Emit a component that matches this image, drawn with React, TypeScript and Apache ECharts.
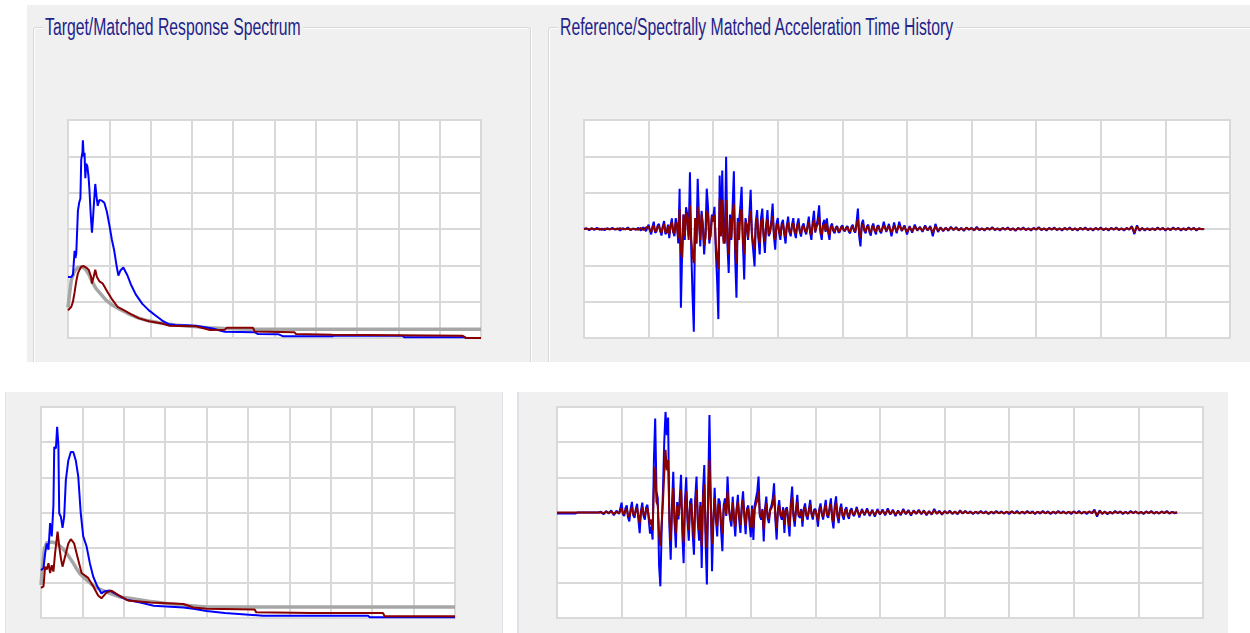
import React, { useEffect, useRef } from "react";
import * as echarts from "echarts";

// ---------- Response spectra: [period (s), Sa (g)] ----------
const TL_TARGET: [number, number][] = [
  [0, 0.42], [0.02, 0.62], [0.04, 0.8], [0.08, 0.92], [0.12, 0.97], [0.17, 0.98], [0.21, 0.95],
  [0.25, 0.88], [0.29, 0.78], [0.34, 0.68], [0.4, 0.6], [0.46, 0.52], [0.54, 0.45], [0.62, 0.4],
  [0.72, 0.34], [0.84, 0.28], [0.96, 0.24], [1.1, 0.21], [1.3, 0.18], [1.5, 0.16], [1.7, 0.14],
  [1.9, 0.13], [2.2, 0.122], [5, 0.122],
];
const TL_REFERENCE: [number, number][] = [
  [0, 0.84], [0.04, 0.84], [0.06, 0.87], [0.075, 1.12], [0.08, 1.2], [0.09, 1.1], [0.1, 1.16],
  [0.12, 1.75], [0.135, 1.86], [0.15, 1.92], [0.16, 2.45], [0.175, 2.56], [0.18, 2.72], [0.19, 2.5],
  [0.2, 2.55], [0.21, 2.2], [0.22, 2.4], [0.235, 2.36], [0.25, 2.2], [0.26, 2.03], [0.275, 1.7],
  [0.29, 1.45], [0.3, 1.6], [0.31, 1.78], [0.33, 2.12], [0.345, 1.95], [0.36, 1.82], [0.38, 1.9],
  [0.41, 1.89], [0.44, 1.86], [0.47, 1.74], [0.5, 1.56], [0.53, 1.36], [0.56, 1.2], [0.59, 0.98],
  [0.61, 0.86], [0.635, 0.93], [0.67, 0.97], [0.72, 0.86], [0.76, 0.74], [0.82, 0.6], [0.9, 0.47],
  [0.98, 0.38], [1.06, 0.31], [1.14, 0.24], [1.22, 0.19], [1.3, 0.18], [1.43, 0.175], [1.55, 0.17],
  [1.6, 0.16], [1.75, 0.13], [1.85, 0.1], [1.9, 0.085], [2.26, 0.08], [2.3, 0.055], [2.55, 0.05],
  [2.6, 0.025], [3.2, 0.025], [3.22, 0.03], [4.05, 0.03], [4.07, 0.01], [4.8, 0.01], [4.82, 0], [5, 0],
];
const TL_MATCHED: [number, number][] = [
  [0, 0.38], [0.04, 0.43], [0.06, 0.5], [0.08, 0.63], [0.1, 0.78], [0.12, 0.89], [0.14, 0.94],
  [0.16, 0.98], [0.19, 0.99], [0.22, 0.97], [0.25, 0.94], [0.28, 0.84], [0.29, 0.75], [0.31, 0.84],
  [0.33, 0.94], [0.35, 0.84], [0.38, 0.78], [0.42, 0.75], [0.48, 0.63], [0.54, 0.52], [0.6, 0.43],
  [0.68, 0.38], [0.76, 0.33], [0.86, 0.27], [0.98, 0.23], [1.14, 0.2], [1.22, 0.17], [1.5, 0.16],
  [1.55, 0.16], [1.72, 0.11], [1.9, 0.115], [1.92, 0.14], [2.24, 0.14], [2.26, 0.09], [2.74, 0.08],
  [2.76, 0.055], [3.2, 0.046], [4.78, 0.03], [4.82, 0], [5, 0],
];

const BL_TARGET: [number, number][] = [
  [0, 0.47], [0.02, 0.75], [0.04, 0.98], [0.07, 1.07], [0.12, 1.08], [0.17, 1.07], [0.22, 1.03],
  [0.27, 0.98], [0.31, 0.92], [0.35, 0.85], [0.39, 0.78], [0.43, 0.7], [0.47, 0.63], [0.55, 0.54],
  [0.61, 0.48], [0.67, 0.43], [0.75, 0.39], [0.83, 0.35], [0.95, 0.3], [1.07, 0.28], [1.3, 0.24],
  [1.5, 0.21], [1.7, 0.185], [2.0, 0.157], [5, 0.157],
];
const BL_REFERENCE: [number, number][] = [
  [0, 0.68], [0.03, 0.71], [0.05, 0.92], [0.07, 1.06], [0.09, 0.97], [0.11, 1.35], [0.13, 1.16],
  [0.15, 1.6], [0.16, 2.43], [0.18, 2.41], [0.195, 2.72], [0.21, 2.46], [0.22, 1.49], [0.24, 1.44],
  [0.26, 1.28], [0.28, 1.44], [0.3, 1.96], [0.33, 2.24], [0.36, 2.36], [0.39, 2.36], [0.42, 2.24],
  [0.45, 2.01], [0.48, 1.49], [0.51, 1.16], [0.55, 1.02], [0.59, 0.78], [0.63, 0.59], [0.68, 0.45],
  [0.73, 0.35], [0.77, 0.38], [0.83, 0.39], [0.89, 0.35], [0.95, 0.31], [1.03, 0.26], [1.2, 0.22],
  [1.36, 0.175], [1.72, 0.15], [1.84, 0.13], [2.0, 0.1], [2.22, 0.07], [2.68, 0.033], [3.95, 0.033],
  [3.97, 0.012], [5, 0.012],
];
const BL_MATCHED: [number, number][] = [
  [0, 0.43], [0.03, 0.45], [0.05, 0.73], [0.07, 0.69], [0.09, 0.78], [0.11, 0.64], [0.13, 0.75],
  [0.15, 0.66], [0.17, 0.92], [0.2, 1.23], [0.22, 1.02], [0.24, 0.85], [0.26, 0.73], [0.29, 0.87],
  [0.33, 1.06], [0.36, 1.12], [0.4, 1.06], [0.44, 0.87], [0.49, 0.64], [0.57, 0.57], [0.63, 0.45],
  [0.69, 0.32], [0.73, 0.28], [0.79, 0.36], [0.85, 0.39], [0.93, 0.33], [1.05, 0.25], [1.32, 0.22],
  [1.72, 0.2], [1.84, 0.15], [2.0, 0.13], [2.58, 0.12], [2.6, 0.08], [3.27, 0.07], [4.13, 0.07],
  [4.15, 0.024], [5, 0.024],
];

// ---------- Acceleration time histories (gal) ----------
// head: t = 0 .. 4.8 s every 0.2 s; strong motion: t = 5.0 .. 22.9 s every 0.1 s; tail: t = 23 .. 48 s every 0.2 s
const HEAD_T0 = 0, HEAD_DT = 0.2;
const STRONG_T0 = 5, STRONG_DT = 0.1;
const TAIL_T0 = 23, TAIL_DT = 0.2;

const TOP_REF_HEAD = [0, 2, -3, 1, -2, 3, -2, 1, -3, 2, -1, 3, -2, 2, -4, 2, -1, 4, -3, 1, -2, 3, -4, 5, -6];
const TOP_REF_STRONG = [
  12, -4, -15, 6, 20, -10, -8, 10, 14, -6,
  -18, 8, 22, -14, -10, 12, -25, 10, 29, -8,
  -20, 30, 10, -40, 111, -217, -60, 40, -30, 60,
  38, -20, 156, -57, -180, -283, 20, -40, 138, 30,
  -48, 50, 10, -70, -12, 111, 60, -40, -8, 40,
  30, 61, -60, -139, -248, 147, -20, 161, -30, -40,
  199, -40, -121, 40, -30, 60, 159, -80, -189, 30,
  20, 60, 116, -40, -139, 30, 10, -30, 40, 108,
  -20, -60, -103, 20, 52, -25, -70, 30, 56, -20,
  -66, 10, 52, -20, -10, 25, 70, -20, -57, 15,
  30, -10, -30, 15, 25, -15, -40, 10, 34, -8,
  -20, 12, 30, -10, -25, 12, 29, -6, -21, 8,
  15, -5, -15, 10, 34, -10, -30, 20, 50, -10,
  10, 30, 65, -10, -30, 15, 25, -8, 29, -10,
  -30, 8, 15, -6, -12, 5, 8, -10, -8, 6,
  10, -4, -6, 5, 8, -8, -12, 6, 12, -5,
  -10, 20, 56, -20, -48, 15, 25, -5, -12, 8,
  12, -10, -18, 8, 15, -6, -15, 8, 10, -6,
];
const TOP_REF_TAIL = [
  -12, 20, -8, 14, -20,
  18, -12, 20, -6, 10, -15, 8, -10, 12, -5,
  6, -8, 10, -4, 8, -20, 14, -8, 5, -6,
  4, -5, 6, -3, 5, -4, 3, -5, 4, -2,
  3, -4, 6, -3, 2, -4, 3, -2, 5, -3,
  2, -4, 3, -2, 4, -3, 2, -5, 3, -2,
  4, -3, 2, -4, 3, -2, 5, -3, 2, -4,
  3, -2, 4, -3, 2, -4, 3, -2, 4, -3,
  2, -4, 3, -2, 4, -3, 2, -4, 3, -2,
  4, -3, 2, -4, 3, -2, 4, -3, 2, -4,
  3, -2, 8, -14, 10, -5, 3, -4, 2, -3,
  2, -3, 4, -2, 3, -4, 2, -3, 4, -2,
  3, -4, 2, -3, 4, -2, 3, -4, 2, -1, 0,
];

const TOP_MAT_HEAD = [0, 1, -1, 2, -1, 0, 1, -2, 1, 0, -1, 1, 0, -1, 2, -1, 0, 1, -2, 1, 0, -2, 3, -3, 4];
const TOP_MAT_STRONG = [
  6, -3, -8, 4, 10, -6, -5, 6, 8, -4,
  -10, 6, 14, -8, -8, 8, -15, 10, 18, -8,
  -12, 18, 6, -25, 55, -60, -80, 40, -20, 45,
  30, -30, 65, -30, -70, -94, 30, -40, 62, 20,
  -30, 40, 10, -45, -25, 50, 40, -30, -20, 35,
  20, 40, -40, -80, -110, 84, -20, 80, -40, -30,
  80, -30, -70, 30, -25, 40, 70, -50, -95, 20,
  -30, 40, 55, -30, -70, 20, 10, -25, 30, 50,
  -15, -40, -55, 15, 30, -20, -40, 20, 30, -15,
  -35, 10, 28, -15, -8, 15, 35, -12, -30, 10,
  15, -8, -18, 10, 14, -10, -22, 8, 18, -6,
  -12, 8, 16, -6, -14, 8, 15, -5, -12, 6,
  8, -4, -9, 6, 18, -6, -16, 12, 25, -6,
  6, 15, 32, -6, -16, 8, 14, -5, 15, -6,
  -16, 5, 8, -4, -7, 3, 5, -6, -5, 4,
  6, -3, -4, 3, 5, -5, -7, 4, 7, -3,
  -6, 10, 28, -10, -25, 8, 14, -3, -7, 5,
  7, -6, -10, 5, 8, -4, -8, 5, 6, -4,
];
const TOP_MAT_TAIL = [
  -7, 10, -5, 8, -10,
  9, -6, 10, -4, 6, -8, 5, -6, 7, -3,
  4, -5, 6, -3, 5, -10, 7, -4, 3, -4,
  3, -3, 4, -2, 3, -3, 2, -3, 3, -1,
  2, -3, 3, -2, 1, -2, 2, -1, 3, -2,
  1, -2, 2, -1, 2, -2, 1, -3, 2, -1,
  2, -2, 1, -2, 2, -1, 3, -2, 1, -2,
  2, -1, 2, -2, 1, -2, 2, -1, 2, -2,
  1, -2, 2, -1, 2, -2, 1, -2, 2, -1,
  2, -2, 1, -2, 2, -1, 2, -2, 1, -2,
  2, -1, 6, -10, 7, -3, 2, -2, 1, -2,
  1, -2, 2, -1, 2, -2, 1, -2, 2, -1,
  2, -2, 1, -2, 2, -1, 2, -2, 1, 0, 0,
];

const BOT_REF_HEAD = [-3, -3, -3, -3, -3, -3, -3, -3, 0, 0, 0, 0, 0, 0, 0, 0, 0, 2, -5, 4, -3, 6, -8, 5, -4];
const BOT_REF_STRONG = [
  28, -5, -10, 12, 20, -15, -25, 10, 30, -8,
  -15, 10, 25, -20, -59, 5, 28, -10, -20, 15,
  22, -20, -60, -40, -77, 150, 267, 60, 40, -150,
  -210, -50, 60, 200, 286, 220, 270, -40, -134, 20,
  116, -30, -100, 30, -20, 40, 107, -60, -144, 30,
  100, -20, -80, 30, 40, -60, -120, 40, 102, -30,
  -80, 30, -158, 60, 135, -80, -205, 60, 277, 40,
  -167, -30, 70, -20, -68, 40, 30, -50, -110, 20,
  40, -10, 102, 20, -20, -40, 45, -20, -68, 10,
  50, -20, -58, 20, 60, -10, -62, 10, 20, -30,
  -70, 20, -78, 20, 40, 60, 102, -10, -20, 10,
  -82, 10, 45, -15, -30, 10, 20, 40, 83, -20,
  -77, 10, 35, -10, -20, 15, -58, 10, 15, -30,
  -68, 30, 74, -10, -40, 10, 50, -10, -15, 10,
  -40, 10, 26, -10, -20, 10, 36, -5, -20, 8,
  10, -10, -40, 10, 26, -5, -20, 10, 36, -10,
  -15, 15, 40, -20, -45, 20, 46, -10, -30, 10,
  25, -10, -20, 8, 15, -10, -18, 6, 12, -6,
];
const BOT_REF_TAIL = [
  -10, 16, -14, 10, -8,
  12, -10, 8, -12, 10, -6, 9, -8, 12, -6,
  8, -10, 6, -8, 10, -5, 7, -9, 6, -4,
  8, -5, 6, -8, 4, -6, 10, -4, 5, -6,
  4, -3, 5, -4, 3, -5, 6, -3, 4, -2,
  3, -4, 2, -3, 4, -2, 3, -4, 2, -3,
  4, -2, 3, -3, 2, -4, 3, -2, 4, -3,
  2, -3, 4, -2, 3, -4, 2, -3, 4, -2,
  3, -4, 2, -3, 4, -2, 3, -3, 2, -4,
  3, -2, 4, -3, 2, -4, 3, -2, 8, -12,
  6, -4, 3, -5, 2, -3, 4, -2, 3, -4,
  2, -3, 4, -2, 3, -3, 2, -4, 3, -2,
  4, -3, 2, -3, 3, -2, 4, -3, 2, -2, 0,
];

const BOT_MAT_HEAD = [0, 0, 0, 0, 0, 0, 0, 0, 0, 0, 0, 0, 0, 0, 0, 0, 0, 1, -2, 2, -1, 3, -4, 2, -2];
const BOT_MAT_STRONG = [
  12, -3, -5, 6, 10, -8, -12, 5, 15, -4,
  -8, 5, 12, -10, -30, 3, 15, -5, -10, 8,
  12, -10, -35, -20, -50, 70, 130, 30, 20, -60,
  -95, -30, 30, 110, 178, 120, 150, -20, -80, 10,
  70, -20, -60, 20, -10, 25, 65, -35, -85, 20,
  60, -10, -50, 20, 25, -35, -75, 25, 65, -20,
  -50, 20, -95, 35, 80, -50, -100, 35, 150, 20,
  -90, -20, 40, -10, -40, 25, 18, -30, -60, 10,
  25, -5, 60, 10, -12, -25, 28, -10, -40, 6,
  30, -10, -35, 10, 36, -6, -38, 6, 12, -18,
  -42, 10, -45, 10, 24, 35, 60, -6, -12, 6,
  -48, 6, 27, -8, -18, 6, 12, 24, 50, -10,
  -45, 6, 20, -6, -12, 8, -35, 6, 9, -18,
  -40, 18, 44, -6, -24, 6, 30, -6, -9, 6,
  -24, 6, 15, -6, -12, 6, 22, -3, -12, 5,
  6, -6, -24, 6, 15, -3, -12, 6, 22, -6,
  -9, 9, 24, -12, -27, 12, 28, -6, -18, 6,
  15, -6, -12, 5, 9, -6, -11, 4, 7, -4,
];
const BOT_MAT_TAIL = [
  -6, 10, -8, 6, -5,
  7, -6, 5, -7, 6, -4, 5, -5, 7, -4,
  5, -6, 4, -5, 6, -3, 4, -5, 4, -3,
  5, -3, 4, -5, 3, -4, 6, -3, 3, -4,
  3, -2, 3, -3, 2, -3, 4, -2, 3, -2,
  1, -2, 2, -1, 2, -2, 1, -3, 2, -1,
  2, -2, 1, -2, 2, -1, 3, -2, 1, -2,
  2, -1, 2, -2, 1, -2, 2, -1, 2, -2,
  1, -2, 2, -1, 2, -2, 1, -2, 2, -1,
  2, -2, 1, -2, 2, -1, 2, -2, 5, -8,
  4, -3, 2, -3, 1, -2, 2, -1, 2, -2,
  1, -2, 2, -1, 2, -2, 1, -2, 2, -1,
  2, -2, 1, -2, 2, -1, 2, -2, 1, 0, 0,
];

const TITLE_SPECTRUM = "Target/Matched Response Spectrum";
const TITLE_HISTORY = "Reference/Spectrally Matched Acceleration Time History";

const BLUE = "#0000ff";
const RED = "#880000";
const GRAY = "#a6a6a6";
const GRID_LINE = "#d9d9d9";
const PANEL = "#f0f0f0";

function segment(vals: number[], t0: number, dt: number): [number, number][] {
  return vals.map((v, i) => [Math.round((t0 + i * dt) * 100) / 100, v]);
}
function history(head: number[], strong: number[], tail: number[]): [number, number][] {
  return [
    ...segment(head, HEAD_T0, HEAD_DT),
    ...segment(strong, STRONG_T0, STRONG_DT),
    ...segment(tail, TAIL_T0, TAIL_DT),
  ];
}

const axisBase = {
  axisLine: { show: false },
  axisTick: { show: false },
  axisLabel: { show: false },
  splitLine: { show: true, lineStyle: { color: GRID_LINE, width: 2 } },
};

function lineSeries(name: string, idx: number, data: [number, number][], color: string, width: number, z: number) {
  return {
    type: "line",
    name,
    xAxisIndex: idx,
    yAxisIndex: idx,
    data,
    showSymbol: false,
    symbol: "none",
    z,
    lineStyle: { color, width },
    itemStyle: { color },
    emphasis: { disabled: true },
  };
}

function title(text: string, x: number) {
  return {
    type: "text",
    x,
    y: 27,
    scaleX: 0.685,
    z: 10,
    style: {
      text,
      font: '23px "Liberation Sans", Arial, sans-serif',
      fill: "#23238a",
      align: "left",
      verticalAlign: "middle",
      backgroundColor: PANEL,
      padding: [0, 3],
    },
  };
}

export default function App() {
  const ref = useRef<HTMLDivElement>(null);

  useEffect(() => {
    if (!ref.current) return;
    const chart = echarts.init(ref.current, undefined, { renderer: "svg" });
    const gridBase = { show: true, backgroundColor: "#ffffff", borderColor: GRID_LINE, borderWidth: 2 };
    chart.setOption({
      animation: false,
      tooltip: { show: false },
      grid: [
        { ...gridBase, left: 68, top: 120, width: 413, height: 218 },
        { ...gridBase, left: 584, top: 120, width: 646, height: 218 },
        { ...gridBase, left: 41, top: 407, width: 414, height: 211 },
        { ...gridBase, left: 557, top: 407, width: 646, height: 211 },
      ],
      xAxis: [
        { type: "value", gridIndex: 0, min: 0, max: 5, interval: 0.5, ...axisBase },
        { type: "value", gridIndex: 1, min: 0, max: 50, interval: 5, ...axisBase },
        { type: "value", gridIndex: 2, min: 0, max: 5, interval: 0.5, ...axisBase },
        { type: "value", gridIndex: 3, min: 0, max: 50, interval: 5, ...axisBase },
      ],
      yAxis: [
        { type: "value", gridIndex: 0, min: 0, max: 3, interval: 0.5, ...axisBase },
        { type: "value", gridIndex: 1, min: -300, max: 300, interval: 100, ...axisBase },
        { type: "value", gridIndex: 2, min: 0, max: 3, interval: 0.5, ...axisBase },
        { type: "value", gridIndex: 3, min: -300, max: 300, interval: 100, ...axisBase },
      ],
      graphic: [title(TITLE_SPECTRUM, 43), title(TITLE_HISTORY, 558)],
      series: [
        lineSeries("Target", 0, TL_TARGET, GRAY, 3.5, 2),
        lineSeries("Reference", 0, TL_REFERENCE, BLUE, 2, 3),
        lineSeries("Matched", 0, TL_MATCHED, RED, 2, 4),
        lineSeries("Reference", 1, history(TOP_REF_HEAD, TOP_REF_STRONG, TOP_REF_TAIL), BLUE, 2, 3),
        lineSeries("Matched", 1, history(TOP_MAT_HEAD, TOP_MAT_STRONG, TOP_MAT_TAIL), RED, 2, 4),
        lineSeries("Target", 2, BL_TARGET, GRAY, 3.5, 2),
        lineSeries("Reference", 2, BL_REFERENCE, BLUE, 2, 3),
        lineSeries("Matched", 2, BL_MATCHED, RED, 2, 4),
        lineSeries("Reference", 3, history(BOT_REF_HEAD, BOT_REF_STRONG, BOT_REF_TAIL), BLUE, 2, 3),
        lineSeries("Matched", 3, history(BOT_MAT_HEAD, BOT_MAT_STRONG, BOT_MAT_TAIL), RED, 2, 4),
      ],
    });
    return () => chart.dispose();
  }, []);

  const groupBox: React.CSSProperties = {
    position: "absolute",
    border: "1px solid #d3d8dc",
    borderRadius: 3,
    boxShadow: "inset 1px 1px 0 #ffffff, 1px 1px 0 #ffffff",
  };

  return (
    <div style={{ position: "absolute", left: 0, top: 0, width: 1250, height: 633, background: "#fff", overflow: "hidden" }}>
      <div style={{ position: "absolute", left: 27, top: 5, width: 1223, height: 357, background: PANEL, overflow: "hidden" }}>
        <div style={{ ...groupBox, left: 6, top: 22, width: 496, height: 400 }} />
        <div style={{ ...groupBox, left: 521, top: 22, width: 800, height: 400 }} />
      </div>
      <div style={{ position: "absolute", left: 5, top: 392, width: 496, height: 241, background: PANEL, borderLeft: "1px solid #dde2e8", borderRight: "1px solid #dde2e8" }} />
      <div style={{ position: "absolute", left: 517, top: 392, width: 709, height: 241, background: PANEL, borderLeft: "2px solid #dde2e8" }} />
      <div ref={ref} style={{ position: "absolute", left: 0, top: 0, width: 1250, height: 633 }} />
    </div>
  );
}
